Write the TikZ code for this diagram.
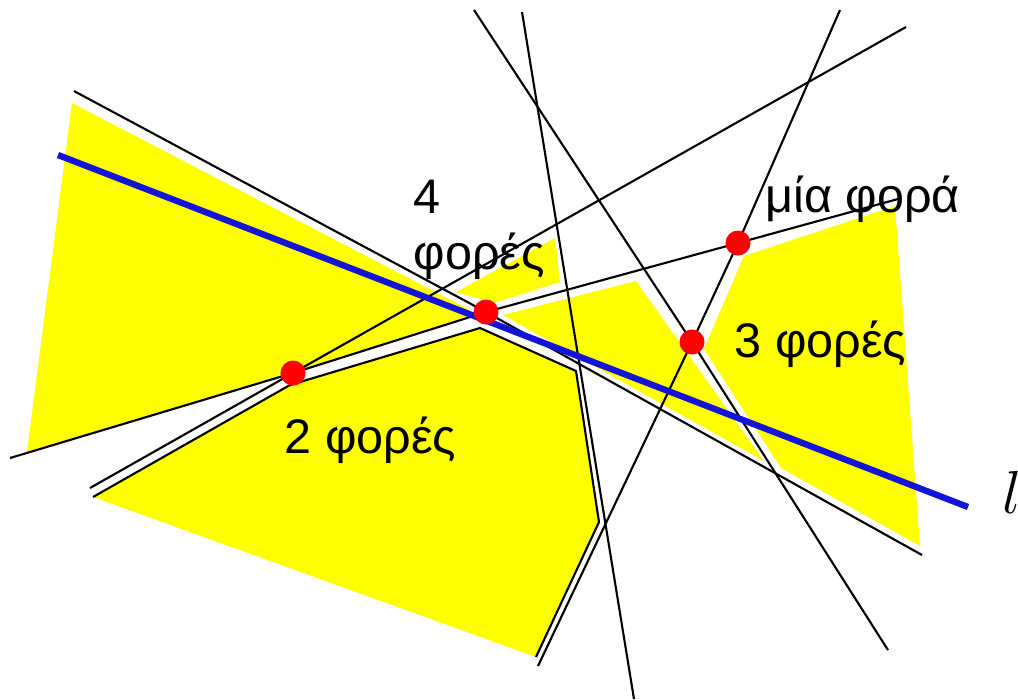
\documentclass[tikz,border=0pt]{standalone}
\usepackage{fontspec}
\setmainfont{Liberation Sans}
\definecolor{zoneyellow}{RGB}{255,255,0}
\definecolor{lineblue}{RGB}{20,20,215}

\begin{document}
\begin{tikzpicture}[
    x=0.01cm, y=-0.01cm,
    face/.style={fill=zoneyellow, draw=none},
    arrline/.style={black, line width=0.6pt},
    outline/.style={black, line width=0.6pt, line join=miter},
    zoneline/.style={lineblue, line width=1.8pt},
    vertex/.style={circle, fill=red, inner sep=0pt, minimum size=0.25cm},
    count/.style={font=\fontsize{13.8}{16}\selectfont, inner sep=0pt}
]
\fill[white] (0,0) rectangle (1018,699);
\useasboundingbox (0,0) rectangle (1018,699);

% --- vertices on the zone ---
\coordinate (v1) at (738,243);
\coordinate (v2) at (293,373);
\coordinate (v3) at (692,342);
\coordinate (v4) at (486,312);

% --- ends of the lines ---
\coordinate (la1) at (74,91);   \coordinate (la2) at (922,555);
\coordinate (lb1) at (474,10);  \coordinate (lb2) at (888,650);
\coordinate (lc1) at (522,12);  \coordinate (lc2) at (634,699);
\coordinate (ld1) at (840,10);  \coordinate (ld2) at (538,666);
\coordinate (le1) at (906,27);  \coordinate (le2) at (90,488);
\coordinate (lf1) at (10,458);  \coordinate (lf2) at (898,199);
\coordinate (l1) at (58,155);   \coordinate (l2) at (968,507);

% --- faces of the zone ---
\fill[face] (72,103) -- (468,309) -- (475,315) -- (v2) -- (27,452) -- cycle;
\fill[face] (456,292) -- (555,238) -- (560,282) -- (494,303) -- cycle;
\fill[face] (503,315) -- (636,281) -- (764,461) -- cycle;
\fill[face] (744,256) -- (895,206) -- (920,546) -- (781,468) -- (704,349) -- cycle;

% bottom face with its own border
\coordinate (b1) at (93,497);
\coordinate (b2) at (290,385);
\coordinate (b3) at (480,328);
\coordinate (b4) at (576,371);
\coordinate (b5) at (599,522);
\coordinate (b6) at (536,657);
\fill[face] (b1) -- (b2) -- (b3) -- (b4) -- (b5) -- (b6) -- cycle;
\draw[outline] (b1) -- (b2) -- (b3) -- (b4) -- (b5) -- (b6);

% --- arrangement ---
\draw[arrline] (la1) -- (v4) -- (la2);
\draw[arrline] (lb1) -- (v3) -- (lb2);
\draw[arrline] (lc1) -- (lc2);
\draw[arrline] (ld1) -- (v1) -- (v3) -- (ld2);
\draw[arrline] (le1) -- (v2) -- (le2);
\draw[arrline] (lf1) -- (v2) -- (v4) -- (v1) -- (lf2);

\draw[zoneline] (l1) -- (l2);

\node[vertex] (dot1) at (v1) {};
\node[vertex] (dot2) at (v2) {};
\node[vertex] (dot3) at (v3) {};
\node[vertex] (dot4) at (v4) {};

% --- counts ---
\node[count, anchor=north west, align=left] (four) at (413,179) {4\\φορές};
\node[count, anchor=base west] (once) at (765,212) {μία φορά};
\node[count, anchor=base west] (three) at (734,357) {3 φορές};
\node[count, anchor=base west] (two) at (284,453) {2 φορές};
\node[anchor=base west, inner sep=0pt, font=\fontsize{17}{20}\selectfont] (ell) at (1002,513) {$l$};

\end{tikzpicture}
\end{document}
